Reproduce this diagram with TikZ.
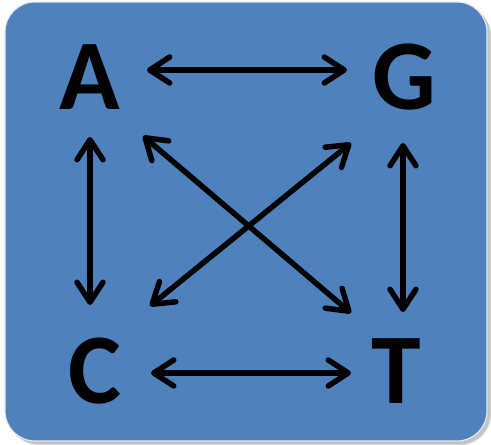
\documentclass[tikz,border=0pt]{standalone}
\usepackage{fontspec}
\setmainfont{Carlito}
\usetikzlibrary{arrows.meta}
\definecolor{panelblue}{RGB}{79,129,189}
\definecolor{paneledge}{RGB}{225,232,242}
\tikzset{
  base/.style={font=\bfseries\fontsize{100}{100}\selectfont, inner sep=0pt, text=black},
  link/.style={line width=5.5pt, line cap=round,
    {Straight Barb[length=20pt, width=26pt, round]}-{Straight Barb[length=20pt, width=26pt, round]}}
}
\begin{document}
\begin{tikzpicture}[x=1pt, y=-1pt]
  \useasboundingbox (0,0) rectangle (491,445);
  % soft drop shadow of the panel
  \fill[black, opacity=0.15, rounded corners=30pt] (9,6) rectangle (491,445);
  \fill[black, opacity=0.10, rounded corners=30pt] (7,4) rectangle (490,444);
  % panel
  \draw[fill=panelblue, draw=paneledge, line width=1.2pt, rounded corners=30pt]
    (5,2) rectangle (487,441);
  % nucleotide letters
  \node[base] (A) at (90,77) {A};
  \node[base] (G) at (404,77) {G};
  \node[base] (C) at (95,371) {C};
  \node[base] (T) at (396,371) {T};
  % transitions between every pair
  \draw[link] ([shift={(57,-7)}]A.center) -- ([shift={(-57,-7)}]G.center);
  \draw[link] ([shift={(0,60)}]A.center) -- ([shift={(-5,-66)}]C.center);
  \draw[link] ([shift={(-1,66)}]G.center) -- ([shift={(7,-59)}]T.center);
  \draw[link] ([shift={(56,2)}]C.center) -- ([shift={(-45,2)}]T.center);
  \draw[link] ([shift={(53,59)}]A.center) -- ([shift={(-45,-58)}]T.center);
  \draw[link] ([shift={(-53,66)}]G.center) -- ([shift={(55,-65)}]C.center);
\end{tikzpicture}
\end{document}
